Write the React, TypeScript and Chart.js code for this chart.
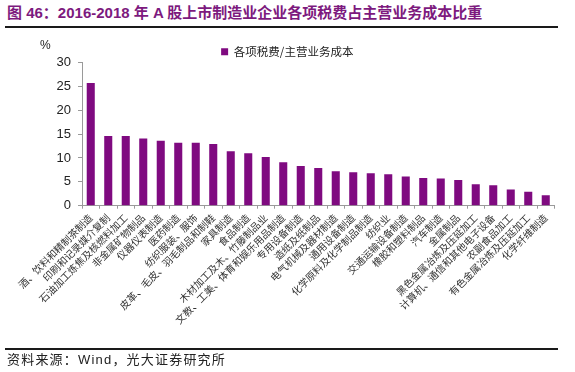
import React, { useEffect, useRef } from 'react';
import { Chart, registerables } from 'chart.js';

Chart.register(...registerables);

const titleText = '图 46：2016-2018 年 A 股上市制造业企业各项税费占主营业务成本比重';
const sourceText = '资料来源：Wind，光大证券研究所';
const unitLabel = '%';
const seriesName = '各项税费/主营业务成本';

const categories = [
  '酒、饮料和精制茶制造',
  '印刷和记录媒介复制',
  '石油加工炼焦及核燃料加工',
  '非金属矿物制品',
  '仪器仪表制造',
  '医药制造',
  '纺织服装、服饰',
  '皮革、毛皮、羽毛制品和制鞋',
  '家具制造',
  '食品制造',
  '木材加工及木、竹藤制品业',
  '文教、工美、体育和娱乐用品制造',
  '专用设备制造',
  '造纸及纸制品',
  '电气机械及器材制造',
  '通用设备制造',
  '化学原料及化学制品制造',
  '纺织业',
  '交通运输设备制造',
  '橡胶和塑料制品',
  '汽车制造',
  '金属制品',
  '黑色金属冶炼及压延加工',
  '计算机、通信和其他电子设备',
  '农副食品加工',
  '有色金属冶炼及压延加工',
  '化学纤维制造',
];

const values = [
  25.7, 14.6, 14.6, 14.1, 13.6, 13.2, 13.2, 12.9, 11.4, 11.0, 10.2, 9.1, 8.3, 7.9,
  7.2, 7.0, 6.8, 6.6, 6.1, 5.8, 5.7, 5.4, 4.5, 4.3, 3.4, 2.9, 2.2,
];

const yMin = 0;
const yMax = 30;
const yStep = 5;

const PURPLE = '#7f0a80';
const AXIS = '#9a9a9a';
const CJK = '"Noto Sans CJK SC", sans-serif';
const LATIN_CJK = '"Liberation Sans", "Noto Sans CJK SC", sans-serif';

const legendShift = {
  id: 'legendShift',
  afterLayout(chart: any) {
    const lg = chart.legend;
    if (lg) {
      lg.top += 5;
      lg.bottom += 5;
      lg.left += 10;
      lg.right += 10;
    }
  },
};

export default function App() {
  const ref = useRef<HTMLCanvasElement | null>(null);

  useEffect(() => {
    if (!ref.current) return;
    const chart = new Chart(ref.current, {
      type: 'bar',
      data: {
        labels: categories,
        datasets: [
          {
            label: seriesName,
            data: values,
            backgroundColor: PURPLE,
            borderWidth: 0,
            categoryPercentage: 1,
            barPercentage: 0.46,
          },
        ],
      },
      options: {
        responsive: false,
        animation: false,
        devicePixelRatio: 1,
        layout: { padding: { top: 31, left: 0, right: 20.5, bottom: 36.3 } },
        plugins: {
          legend: {
            display: true,
            position: 'top',
            labels: {
              boxWidth: 7,
              boxHeight: 7,
              padding: 10,
              color: '#222',
              font: { family: CJK, size: 11.5 },
            },
          },
          tooltip: { enabled: false },
        },
        scales: {
          x: {
            grid: {
              display: true,
              drawOnChartArea: false,
              drawTicks: true,
              tickLength: 3,
              color: AXIS,
              offset: true,
            },
            border: { display: true, color: AXIS, width: 1 },
            ticks: {
              autoSkip: false,
              maxRotation: 45,
              minRotation: 45,
              padding: 3,
              color: '#333',
              font: { family: CJK, size: 10 },
            },
            afterFit(scale: any) {
              scale.height = 130;
            },
          },
          y: {
            min: yMin,
            max: yMax,
            grid: {
              display: true,
              drawOnChartArea: false,
              drawTicks: true,
              tickLength: 4,
              color: AXIS,
            },
            border: { display: true, color: AXIS, width: 1 },
            ticks: {
              stepSize: yStep,
              padding: 7,
              color: '#222',
              font: { family: LATIN_CJK, size: 13 },
            },
            afterFit(scale: any) {
              scale.width = 82;
            },
          },
        },
      },
      plugins: [legendShift],
    });
    return () => chart.destroy();
  }, []);

  return (
    <div
      style={{
        position: 'fixed',
        left: 0,
        top: 0,
        width: 575,
        height: 372,
        background: '#fff',
        overflow: 'hidden',
      }}
    >
      <div
        style={{
          position: 'absolute',
          left: 7,
          top: 4,
          fontFamily: LATIN_CJK,
          fontWeight: 'bold',
          fontSize: 15,
          lineHeight: '18px',
          color: '#7d1a7e',
          whiteSpace: 'nowrap',
        }}
      >
        {titleText}
      </div>
      <div
        style={{
          position: 'absolute',
          left: 5,
          top: 26,
          width: 553,
          height: 2,
          background: '#1a1a1a',
        }}
      />
      <canvas
        ref={ref}
        width={575}
        height={372}
        style={{ position: 'absolute', left: 0, top: 0, width: 575, height: 372 }}
      />
      <div
        style={{
          position: 'absolute',
          left: 40,
          top: 38,
          fontFamily: LATIN_CJK,
          fontSize: 12,
          lineHeight: '14px',
          color: '#222',
        }}
      >
        {unitLabel}
      </div>
      <div
        style={{
          position: 'absolute',
          left: 5,
          top: 348,
          width: 553,
          height: 2,
          background: '#1a1a1a',
        }}
      />
      <div
        style={{
          position: 'absolute',
          left: 7,
          top: 352,
          fontFamily: LATIN_CJK,
          fontSize: 13,
          lineHeight: '15px',
          letterSpacing: '1.2px',
          color: '#222',
          whiteSpace: 'nowrap',
        }}
      >
        {sourceText}
      </div>
    </div>
  );
}
